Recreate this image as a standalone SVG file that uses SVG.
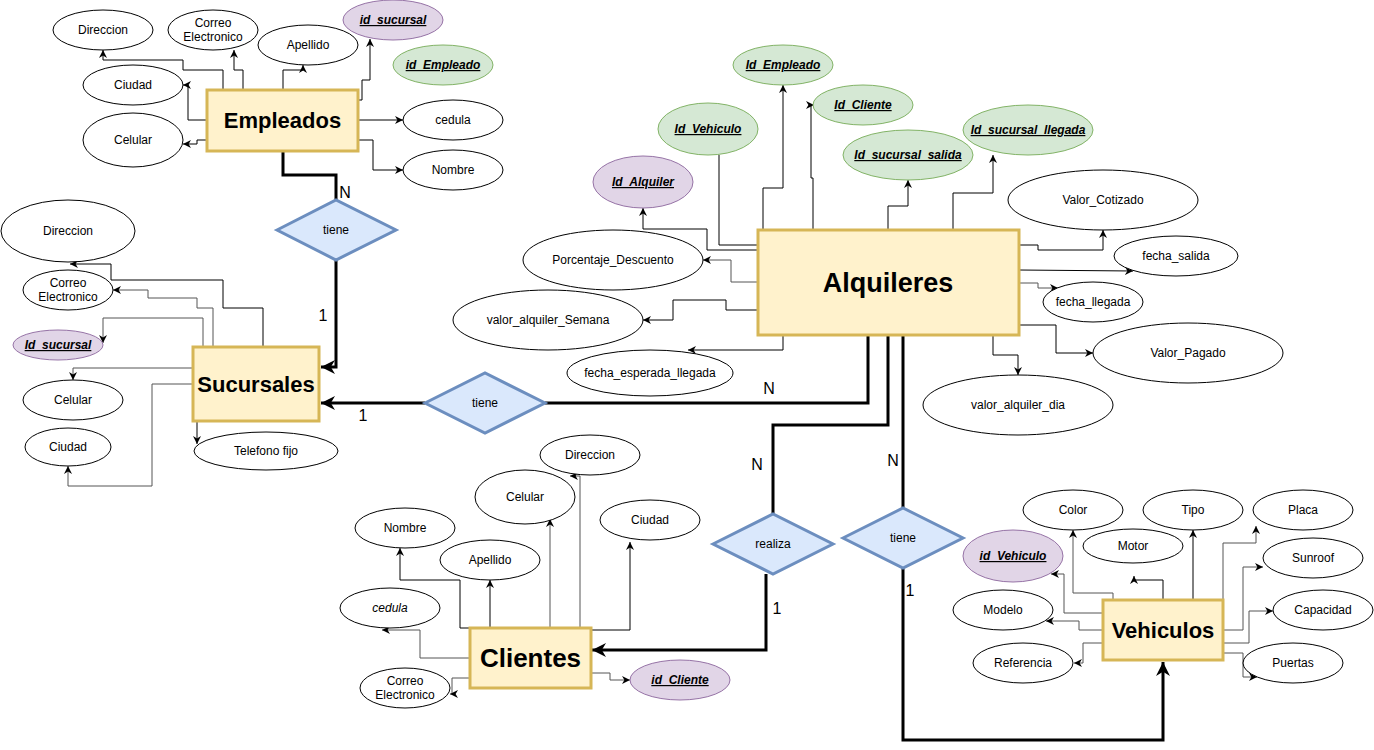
<svg xmlns="http://www.w3.org/2000/svg" width="1374" height="750" viewBox="0 0 1374 750">
<style>
.e{fill:#fff;stroke:#000;stroke-width:1}
.pk{fill:#e1d5e7;stroke:#9673a6;stroke-width:1}
.fk{fill:#d5e8d4;stroke:#82b366;stroke-width:1}
.ent{fill:#fff2cc;stroke:#d6b656;stroke-width:3}
.rel{fill:#dae8fc;stroke:#6c8ebf;stroke-width:3}
text{font-family:"Liberation Sans",Arial,Helvetica,sans-serif;font-size:12px;text-anchor:middle;fill:#000}
.k{font-weight:bold;font-style:italic;text-decoration:underline}
.i{font-style:italic}
.b{font-weight:bold}
.lbl{font-size:16px}
.c{fill:none;stroke:#000;stroke-width:1;marker-end:url(#a)}
.n{fill:none;stroke:#000;stroke-width:1}
.g{stroke:#555}
.th{fill:none;stroke:#000;stroke-width:3}
.ta{fill:none;stroke:#000;stroke-width:3;marker-end:url(#A)}
</style>
<defs>
<marker id="a" viewBox="0 0 10 10" refX="10" refY="5" markerWidth="8" markerHeight="8" markerUnits="userSpaceOnUse" orient="auto"><path d="M0,0 L10,5 L0,10 L3,5 z" fill="#000"/></marker>
<marker id="A" viewBox="0 0 10 10" refX="10" refY="5" markerWidth="16" markerHeight="14" markerUnits="userSpaceOnUse" orient="auto"><path d="M0,0 L10,5 L0,10 L3,5 z" fill="#000"/></marker>
</defs>
<rect width="1374" height="750" fill="#fff"/>

<g id="connectors">
<!-- Empleados -->
<path class="c" d="M223,90 V70 H183 V60 H103 V50"/>
<path class="c" d="M243,90 V70 H234 V50"/>
<path class="c" d="M283,90 V70 H303 V65"/>
<path class="c" d="M358,100 H362 V80 H370 V39"/>
<path class="c" d="M207,120 H188 V85 H183"/>
<path class="c" d="M207,140 H197 V144 H183"/>
<path class="c" d="M358,120 H403"/>
<path class="c" d="M358,140 H373 V170 H403"/>
<!-- Sucursales -->
<path class="c" d="M263,347 V308 H223 V280 H111 V264 H70"/>
<path class="c g" d="M213,347 V308 H197 V298 H148 V290 H113"/>
<path class="c g" d="M203,347 V318 H103 V343"/>
<path class="c g" d="M193,368 H73 V380"/>
<path class="c g" d="M193,384 H152 V486 H68 V466"/>
<path class="c" d="M197,421 V444"/>
<!-- Alquileres -->
<path class="c" d="M758,250 H707 V229 H643 V208"/>
<path class="n" d="M758,245 H719 V155"/>
<path class="c" d="M763,230 V188 H783 V85"/>
<path class="c" d="M813,230 V178 H811 V105 H814"/>
<path class="c" d="M888,230 V206 H908 V180"/>
<path class="c" d="M953,230 V193 H993 V155"/>
<path class="c" d="M1019,245 H1038 V250 H1103 V230"/>
<path class="c" d="M1019,270 L1133,271"/>
<path class="c g" d="M1019,283 H1038 V288 H1058"/>
<path class="c" d="M1019,325 H1056 V353 H1093"/>
<path class="c" d="M993,336 V355 H1018 V375"/>
<path class="c g" d="M758,282 H731 V260 H703"/>
<path class="c" d="M758,310 H726 V300 H673 V320 H643"/>
<path class="c" d="M783,336 V350 H688"/>
<!-- Clientes -->
<path class="c" d="M516,628 H460 V580 H400 V548"/>
<path class="c" d="M490,628 V580"/>
<path class="c g" d="M550,628 V519"/>
<path class="c g" d="M580,628 V476 H570"/>
<path class="c" d="M591,630 H630 V542"/>
<path class="c g" d="M470,658 H420 V630 H382"/>
<path class="c g" d="M470,678 H452 V694 H450"/>
<path class="c g" d="M591,673 H610 V680 H630"/>
<!-- Vehiculos -->
<path class="c g" d="M1113,600 V593 H1073 V530"/>
<path class="c" d="M1163,600 V580 H1134 V576"/>
<path class="c" d="M1193,600 V530"/>
<path class="c g" d="M1223,600 V543 H1256 V526"/>
<path class="c g" d="M1224,630 H1243 V567 H1263"/>
<path class="c g" d="M1224,643 H1249 V611 H1273"/>
<path class="c g" d="M1224,653 H1243 V677 H1257"/>
<path class="c g" d="M1103,613 H1064 V574 H1051"/>
<path class="c g" d="M1103,630 H1079 V621 H1046"/>
<path class="c g" d="M1103,643 H1083 V663 H1074"/>
<!-- relationships -->
<path class="th" d="M283,151 V175 H336 V200"/>
<path class="ta" d="M336,260 V367 H321"/>
<path class="ta" d="M425,403 H321"/>
<path class="th" d="M545,403 H868 V336"/>
<path class="th" d="M888,336 V425 H773 V515"/>
<path class="ta" d="M766,574 V650 H592"/>
<path class="th" d="M903,336 V508"/>
<path class="ta" d="M903,568 V740 H1163 V662"/>
<text class="lbl" x="345" y="198">N</text>
<text class="lbl" x="323" y="321">1</text>
<text class="lbl" x="363" y="421">1</text>
<text class="lbl" x="769" y="394">N</text>
<text class="lbl" x="757" y="470">N</text>
<text class="lbl" x="893" y="466">N</text>
<text class="lbl" x="777" y="614">1</text>
<text class="lbl" x="910" y="596">1</text>
</g>

<!-- Empleados -->
<g id="empleados"><rect class="ent" x="207" y="90" width="151" height="61"/><text class="b" x="282.5" y="128" style="font-size:22px">Empleados</text></g>
<g id="emp_direccion"><ellipse class="e" cx="103" cy="30" rx="50" ry="20"/><text x="103" y="34">Direccion</text></g>
<g id="emp_correo"><ellipse class="e" cx="213" cy="30" rx="45" ry="20"/><text x="213" y="27">Correo</text><text x="213" y="41">Electronico</text></g>
<g id="emp_apellido"><ellipse class="e" cx="308" cy="45" rx="50" ry="20"/><text x="308" y="49">Apellido</text></g>
<g id="emp_id_sucursal"><ellipse class="pk" cx="393" cy="20" rx="50" ry="20"/><text class="k" x="393" y="24">id_sucursal</text></g>
<g id="emp_id_empleado"><ellipse class="fk" cx="443" cy="65" rx="50" ry="20"/><text class="k" x="443" y="69">id_Empleado</text></g>
<g id="emp_ciudad"><ellipse class="e" cx="133" cy="85" rx="50" ry="20"/><text x="133" y="89">Ciudad</text></g>
<g id="emp_celular"><ellipse class="e" cx="133" cy="140" rx="50" ry="27"/><text x="133" y="144">Celular</text></g>
<g id="emp_cedula"><ellipse class="e" cx="453" cy="120" rx="50" ry="20"/><text x="453" y="124">cedula</text></g>
<g id="emp_nombre"><ellipse class="e" cx="453" cy="170" rx="50" ry="20"/><text x="453" y="174">Nombre</text></g>

<g id="rel_emp_suc"><polygon class="rel" points="277,230 336,200 396,230 336,260"/><text x="336" y="234">tiene</text></g>

<!-- Sucursales -->
<g id="sucursales"><rect class="ent" x="193" y="347" width="126" height="74"/><text class="b" x="256" y="392" style="font-size:22px">Sucursales</text></g>
<g id="suc_direccion"><ellipse class="e" cx="68" cy="231" rx="67" ry="31"/><text x="68" y="235">Direccion</text></g>
<g id="suc_correo"><ellipse class="e" cx="68" cy="290" rx="45" ry="20"/><text x="68" y="287">Correo</text><text x="68" y="301">Electronico</text></g>
<g id="suc_id"><ellipse class="pk" cx="58" cy="345" rx="45" ry="15"/><text class="k" x="58" y="349">Id_sucursal</text></g>
<g id="suc_celular"><ellipse class="e" cx="73" cy="400" rx="50" ry="20"/><text x="73" y="404">Celular</text></g>
<g id="suc_ciudad"><ellipse class="e" cx="68" cy="447" rx="43" ry="19"/><text x="68" y="451">Ciudad</text></g>
<g id="suc_telefono"><ellipse class="e" cx="266" cy="451" rx="72" ry="19"/><text x="266" y="455">Telefono fijo</text></g>

<g id="rel_alq_suc"><polygon class="rel" points="425,403 485,373 545,403 485,433"/><text x="485" y="407">tiene</text></g>

<!-- Alquileres -->
<g id="alquileres"><rect class="ent" x="758" y="230" width="261" height="105"/><text class="b" x="888" y="292" style="font-size:27px">Alquileres</text></g>
<g id="alq_id_empleado"><ellipse class="fk" cx="783" cy="65" rx="50" ry="20"/><text class="k" x="783" y="69">Id_Empleado</text></g>
<g id="alq_id_cliente"><ellipse class="fk" cx="863" cy="105" rx="50" ry="20"/><text class="k" x="863" y="109">Id_Cliente</text></g>
<g id="alq_id_vehiculo"><ellipse class="fk" cx="708" cy="129" rx="50" ry="26"/><text class="k" x="708" y="133">Id_Vehiculo</text></g>
<g id="alq_id_alquiler"><ellipse class="pk" cx="643" cy="182" rx="50" ry="26"/><text class="k" x="643" y="186">Id_Alquiler</text></g>
<g id="alq_suc_salida"><ellipse class="fk" cx="908" cy="155" rx="65" ry="25"/><text class="k" x="908" y="159">Id_sucursal_salida</text></g>
<g id="alq_suc_llegada"><ellipse class="fk" cx="1028" cy="130" rx="65" ry="25"/><text class="k" x="1028" y="134">Id_sucursal_llegada</text></g>
<g id="alq_valor_cotizado"><ellipse class="e" cx="1103" cy="200" rx="95" ry="30"/><text x="1103" y="204">Valor_Cotizado</text></g>
<g id="alq_fecha_salida"><ellipse class="e" cx="1176" cy="256" rx="62" ry="20"/><text x="1176" y="260">fecha_salida</text></g>
<g id="alq_fecha_llegada"><ellipse class="e" cx="1093" cy="302" rx="50" ry="20"/><text x="1093" y="306">fecha_llegada</text></g>
<g id="alq_valor_pagado"><ellipse class="e" cx="1188" cy="353" rx="95" ry="30"/><text x="1188" y="357">Valor_Pagado</text></g>
<g id="alq_valor_dia"><ellipse class="e" cx="1018" cy="405" rx="95" ry="30"/><text x="1018" y="409">valor_alquiler_dia</text></g>
<g id="alq_porcentaje"><ellipse class="e" cx="613" cy="260" rx="90" ry="30"/><text x="613" y="264">Porcentaje_Descuento</text></g>
<g id="alq_valor_semana"><ellipse class="e" cx="548" cy="320" rx="95" ry="30"/><text x="548" y="324">valor_alquiler_Semana</text></g>
<g id="alq_fecha_esperada"><ellipse class="e" cx="650" cy="373" rx="83" ry="23"/><text x="650" y="377">fecha_esperada_llegada</text></g>

<g id="rel_realiza"><polygon class="rel" points="713,544 773,514 833,544 773,574"/><text x="773" y="548">realiza</text></g>
<g id="rel_tiene_veh"><polygon class="rel" points="843,538 903,508 963,538 903,568"/><text x="903" y="542">tiene</text></g>

<!-- Clientes -->
<g id="clientes"><rect class="ent" x="470" y="628" width="121" height="60"/><text class="b" x="530.5" y="667" style="font-size:26px">Clientes</text></g>
<g id="cli_direccion"><ellipse class="e" cx="590" cy="455" rx="50" ry="20"/><text x="590" y="459">Direccion</text></g>
<g id="cli_celular"><ellipse class="e" cx="525" cy="497" rx="50" ry="27"/><text x="525" y="501">Celular</text></g>
<g id="cli_nombre"><ellipse class="e" cx="405" cy="528" rx="50" ry="20"/><text x="405" y="532">Nombre</text></g>
<g id="cli_ciudad"><ellipse class="e" cx="650" cy="520" rx="50" ry="20"/><text x="650" y="524">Ciudad</text></g>
<g id="cli_apellido"><ellipse class="e" cx="490" cy="560" rx="50" ry="20"/><text x="490" y="564">Apellido</text></g>
<g id="cli_cedula"><ellipse class="e" cx="390" cy="608" rx="50" ry="20"/><text class="i" x="390" y="612">cedula</text></g>
<g id="cli_correo"><ellipse class="e" cx="405" cy="688" rx="45" ry="20"/><text x="405" y="685">Correo</text><text x="405" y="699">Electronico</text></g>
<g id="cli_id"><ellipse class="pk" cx="680" cy="680" rx="50" ry="20"/><text class="k" x="680" y="684">id_Cliente</text></g>

<!-- Vehiculos -->
<g id="vehiculos"><rect class="ent" x="1103" y="600" width="120" height="60"/><text class="b" x="1163" y="638" style="font-size:22px">Vehiculos</text></g>
<g id="veh_color"><ellipse class="e" cx="1073" cy="510" rx="50" ry="20"/><text x="1073" y="514">Color</text></g>
<g id="veh_tipo"><ellipse class="e" cx="1193" cy="510" rx="50" ry="20"/><text x="1193" y="514">Tipo</text></g>
<g id="veh_placa"><ellipse class="e" cx="1303" cy="510" rx="50" ry="20"/><text x="1303" y="514">Placa</text></g>
<g id="veh_motor"><ellipse class="e" cx="1133" cy="546" rx="50" ry="17"/><text x="1133" y="550">Motor</text></g>
<g id="veh_id"><ellipse class="pk" cx="1013" cy="556" rx="50" ry="26"/><text class="k" x="1013" y="560">id_Vehiculo</text></g>
<g id="veh_sunroof"><ellipse class="e" cx="1313" cy="558" rx="50" ry="20"/><text x="1313" y="562">Sunroof</text></g>
<g id="veh_modelo"><ellipse class="e" cx="1003" cy="610" rx="50" ry="20"/><text x="1003" y="614">Modelo</text></g>
<g id="veh_capacidad"><ellipse class="e" cx="1323" cy="610" rx="50" ry="20"/><text x="1323" y="614">Capacidad</text></g>
<g id="veh_referencia"><ellipse class="e" cx="1023" cy="663" rx="50" ry="20"/><text x="1023" y="667">Referencia</text></g>
<g id="veh_puertas"><ellipse class="e" cx="1293" cy="663" rx="50" ry="20"/><text x="1293" y="667">Puertas</text></g>
</svg>
